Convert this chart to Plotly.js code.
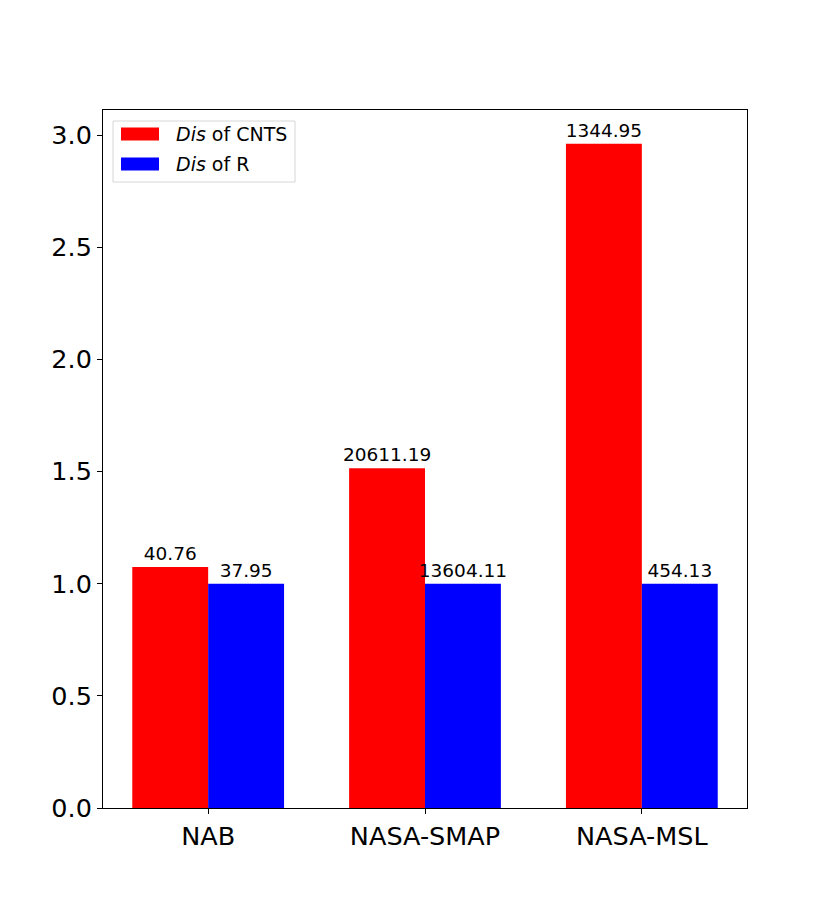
<!DOCTYPE html>
<html>
<head>
<meta charset="utf-8">
<script src="https://cdn.plot.ly/plotly-3.0.1.min.js"></script>
<style>
  html, body { margin: 0; padding: 0; background: #fff; }
  #chart { width: 830px; height: 923px; }
</style>
</head>
<body>
<div id="chart"></div>
<script>
var datasets = [ 'NAB', 'NASA-SMAP', 'NASA-MSL' ];
var cnts_ratio = [ 1.074, 1.515, 2.962 ];
var r_ratio = [ 1.0, 1.0, 1.0 ];
var cnts_labels = [ '40.76', '20611.19', '1344.95' ];
var r_labels = [ '37.95', '13604.11', '454.13' ];
var series_names = [ '<i>Dis</i> of CNTS', '<i>Dis</i> of R' ];
var series_colors = [ '#ff0000', '#0000ff' ];
var y_ticks = [ 0, 0.5, 1.0, 1.5, 2.0, 2.5, 3.0 ];
var y_tick_text = [ '0.0', '0.5', '1.0', '1.5', '2.0', '2.5', '3.0' ];

var font_family = 'DejaVu Sans, sans-serif';

// plot area in pixels, used to place the hand-drawn legend
var M = { l: 103, r: 83, t: 110, b: 115 };
var W = 830, H = 923;
var PW = W - M.l - M.r;
var PH = H - M.t - M.b;
function px( x ) { return ( x - M.l ) / PW; }
function py( y ) { return ( H - M.b - y ) / PH; }

function make_bar( name, values, labels, color )
{
    return {
        type: 'bar',
        name: name,
        x: datasets,
        y: values,
        text: labels,
        textposition: 'outside',
        cliponaxis: false,
        textfont: { family: font_family, size: 18.5, color: 'black' },
        marker: { color: color, line: { width: 0 } },
        hoverinfo: 'skip',
        showlegend: false
    };
}

var data =
[
    make_bar( series_names[ 0 ], cnts_ratio, cnts_labels, series_colors[ 0 ] ),
    make_bar( series_names[ 1 ], r_ratio, r_labels, series_colors[ 1 ] )
];

// legend box drawn by hand (matplotlib style: wide swatches)
var shapes =
[
    {
        type: 'rect', xref: 'paper', yref: 'paper',
        x0: px( 113 ), x1: px( 295 ), y0: py( 182 ), y1: py( 121 ),
        fillcolor: 'white',
        line: { color: '#d6d6d6', width: 1 }
    }
];
var annotations = [];
var row_y = [ 134, 164 ];
for( var i = 0; i < series_names.length; i++ )
{
    shapes.push(
        {
            type: 'rect', xref: 'paper', yref: 'paper',
            x0: px( 121 ), x1: px( 159 ), y0: py( row_y[ i ] + 6.5 ), y1: py( row_y[ i ] - 6.5 ),
            fillcolor: series_colors[ i ],
            line: { width: 0 }
        }
    );
    annotations.push(
        {
            xref: 'paper', yref: 'paper',
            x: px( 174 ), y: py( row_y[ i ] ),
            xanchor: 'left', yanchor: 'middle',
            text: series_names[ i ],
            showarrow: false,
            font: { family: font_family, size: 19, color: 'black' }
        }
    );
}

var layout =
{
    width: W,
    height: H,
    paper_bgcolor: 'white',
    plot_bgcolor: 'white',
    font: { family: font_family, color: 'black' },
    barmode: 'group',
    bargap: 0.3,
    bargroupgap: 0,
    uniformtext: { mode: false },
    margin: M,
    showlegend: false,
    shapes: shapes,
    annotations: annotations,
    xaxis:
    {
        range: [ -0.485, 2.485 ],
        showgrid: false,
        zeroline: false,
        showline: true,
        mirror: true,
        linecolor: 'black',
        linewidth: 1,
        ticks: 'outside',
        ticklen: 5,
        tickcolor: 'black',
        tickfont: { family: font_family, size: 25.5, color: 'black' }
    },
    yaxis:
    {
        range: [ 0, 3.112 ],
        showgrid: false,
        zeroline: false,
        showline: true,
        mirror: true,
        linecolor: 'black',
        linewidth: 1,
        ticks: 'outside',
        ticklen: 5,
        tickcolor: 'black',
        tickvals: y_ticks,
        ticktext: y_tick_text,
        tickfont: { family: font_family, size: 25.5, color: 'black' }
    }
};

data.forEach( function( t ) { t.constraintext = 'none'; } );

Plotly.newPlot( 'chart', data, layout, { displayModeBar: false, staticPlot: true } );
</script>
</body>
</html>
